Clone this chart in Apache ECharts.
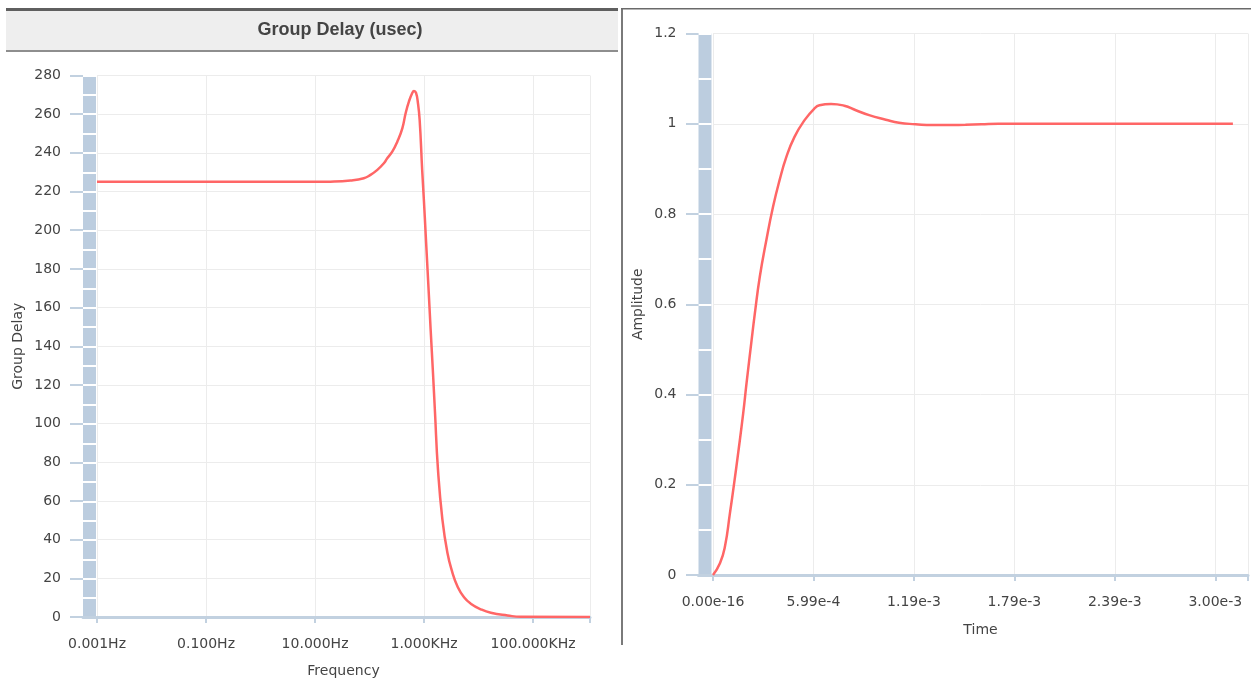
<!DOCTYPE html>
<html>
<head>
<meta charset="utf-8">
<script src="https://cdn.jsdelivr.net/npm/echarts@6/dist/echarts.min.js"></script>
<style>
html,body{margin:0;padding:0;background:#ffffff;}
#c{width:1251px;height:683px;}
</style>
</head>
<body>
<div id="c"></div>
<script>
// ---------- Data ----------
// Left chart: group delay vs frequency
const freqHz = [0.001, 0.01, 0.1, 1, 10, 19.2, 44.8, 78.5, 104, 139, 183, 211, 261, 323, 399, 459, 527, 610, 652, 710, 773, 830, 923, 995, 1070, 1230, 1320, 1460, 1585, 1800, 2170, 2680, 3310, 4090, 5410, 7190, 11000, 16800, 34000, 59700, 1107000];
const groupDelayUsec = [225, 225, 225, 225, 225, 225.1, 225.7, 226.9, 228.6, 231.2, 234.6, 237.2, 240.6, 245.8, 252.7, 260.5, 266.5, 271.1, 272.0, 271.1, 265.6, 257.0, 231.2, 215, 198, 165.5, 148.6, 125.8, 106, 76.2, 50.4, 33.2, 23.0, 15.9, 10.2, 6.9, 4.0, 2.2, 0.8, 0.1, 0];
const freqTickLabels = ['0.001Hz', '0.100Hz', '10.000Hz', '1.000KHz', '100.000KHz'];

// Right chart: step response amplitude vs time
const timeSec = [0, 4.15e-5, 7.12e-5, 1.01e-4, 1.26e-4, 1.50e-4, 1.80e-4, 2.00e-4, 2.30e-4, 2.49e-4, 2.79e-4, 3.18e-4, 3.58e-4, 3.97e-4, 4.37e-4, 4.86e-4, 5.46e-4, 6.05e-4, 6.35e-4, 7.04e-4, 7.83e-4, 8.52e-4, 9.31e-4, 1.030e-3, 1.109e-3, 1.208e-3, 1.307e-3, 1.406e-3, 1.505e-3, 1.601e-3, 1.702e-3, 2.0e-3, 2.5e-3, 3.10e-3];
const amplitude = [0, 0.026, 0.063, 0.137, 0.203, 0.270, 0.358, 0.425, 0.520, 0.578, 0.661, 0.742, 0.816, 0.875, 0.926, 0.971, 1.008, 1.034, 1.041, 1.044, 1.040, 1.030, 1.019, 1.009, 1.002, 0.999, 0.997, 0.997, 0.998, 0.999, 1.0, 1.0, 1.0, 1.0];
const timeTickLabels = ['0.00e-16', '5.99e-4', '1.19e-3', '1.79e-3', '2.39e-3', '3.00e-3'];

// ---------- Styling ----------
const FONT = 'DejaVu Sans';
const TXT = '#444444';
const BAR = '#bccddf';
const AXIS = '#c2d1e0';
const GRIDLINE = '#ececec';
const CURVE = '#ff6666';

const logStep = 2;      // decades between labelled frequency ticks
const logMin = -3;
const logMax = 6.044;
const timeStep = 5.99e-4;
const timeMax = 3.19e-3;

const labelStyle = {color: TXT, fontSize: 14, fontFamily: FONT};
const nameStyle = {color: TXT, fontSize: 14, fontFamily: FONT};

const chart = echarts.init(document.getElementById('c'), null, {renderer: 'canvas'});

const leftData = freqHz.map((f, i) => [Math.log10(f), groupDelayUsec[i]]);
const rightData = timeSec.map((t, i) => [t, amplitude[i]]);

const option = {
  backgroundColor: '#ffffff',
  animation: false,
  graphic: [
    {type: 'rect', shape: {x: 6, y: 8, width: 612, height: 44}, style: {fill: '#eeeeee'}, z: 10},
    {type: 'rect', shape: {x: 6, y: 8, width: 612, height: 3}, style: {fill: '#5f5f5f'}, z: 11},
    {type: 'rect', shape: {x: 6, y: 50, width: 612, height: 2}, style: {fill: '#8e8e8e'}, z: 11},
    {type: 'text', x: 340, y: 30, z: 12, style: {text: 'Group Delay (usec)', fill: TXT, font: 'bold 18px "Liberation Sans", Arial, sans-serif', textAlign: 'center', textVerticalAlign: 'middle'}},
    {type: 'rect', shape: {x: 621, y: 8, width: 2, height: 637}, style: {fill: '#7a7a7a'}, z: 11},
    {type: 'rect', shape: {x: 621, y: 8, width: 630, height: 1.5}, style: {fill: '#6a6a6a'}, z: 11}
  ],
  grid: [
    {left: 97, top: 75.5, width: 493, height: 542},
    {left: 83, top: 75.5, width: 13, height: 542, show: true, backgroundColor: BAR, borderWidth: 0},
    {left: 713, top: 33.5, width: 538, height: 541.5},
    {left: 698.5, top: 33.5, width: 13, height: 541.5, show: true, backgroundColor: BAR, borderWidth: 0}
  ],
  xAxis: [
    {
      gridIndex: 0, type: 'value', min: logMin, max: logMax, interval: logStep,
      axisLine: {show: true, onZero: false, lineStyle: {color: AXIS, width: 3}},
      axisTick: {show: true, length: 6, lineStyle: {color: AXIS, width: 2}},
      axisLabel: {
        margin: 20, ...labelStyle,
        formatter: function (v) {
          const k = (v - logMin) / logStep;
          const i = Math.round(k);
          return (Math.abs(k - i) < 1e-3 && freqTickLabels[i] !== undefined) ? freqTickLabels[i] : '';
        }
      },
      splitLine: {show: true, lineStyle: {color: GRIDLINE, width: 1}},
      name: 'Frequency', nameLocation: 'middle', nameGap: 47, nameTextStyle: nameStyle
    },
    {
      gridIndex: 1, type: 'value', min: 0, max: 1, z: 1,
      axisLine: {show: true, onZero: false, lineStyle: {color: AXIS, width: 3}},
      axisTick: {show: false}, axisLabel: {show: false}, splitLine: {show: false}
    },
    {
      gridIndex: 2, type: 'value', min: 0, max: timeMax, interval: timeStep,
      axisLine: {show: true, onZero: false, lineStyle: {color: AXIS, width: 3}},
      axisTick: {show: true, length: 6, lineStyle: {color: AXIS, width: 2}},
      axisLabel: {
        margin: 20, ...labelStyle,
        formatter: function (v) {
          const k = v / timeStep;
          const i = Math.round(k);
          return (Math.abs(k - i) < 1e-3 && timeTickLabels[i] !== undefined) ? timeTickLabels[i] : '';
        }
      },
      splitLine: {show: true, lineStyle: {color: GRIDLINE, width: 1}},
      name: 'Time', nameLocation: 'middle', nameGap: 48, nameTextStyle: nameStyle
    },
    {
      gridIndex: 3, type: 'value', min: 0, max: 1, z: 1,
      axisLine: {show: true, onZero: false, lineStyle: {color: AXIS, width: 3}},
      axisTick: {show: false}, axisLabel: {show: false}, splitLine: {show: false}
    }
  ],
  yAxis: [
    {
      gridIndex: 0, type: 'value', min: 0, max: 280, interval: 20, offset: 14,
      axisLine: {show: false, onZero: false},
      axisTick: {show: true, length: 13, lineStyle: {color: AXIS, width: 2}},
      axisLabel: {margin: 22, ...labelStyle},
      splitLine: {show: true, lineStyle: {color: GRIDLINE, width: 1}},
      name: 'Group Delay', nameLocation: 'middle', nameGap: 58, nameTextStyle: nameStyle
    },
    {
      gridIndex: 1, type: 'value', min: 0, max: 280, interval: 10,
      axisLine: {show: false, onZero: false}, axisTick: {show: false}, axisLabel: {show: false},
      splitLine: {show: true, lineStyle: {color: '#ffffff', width: 2}}
    },
    {
      gridIndex: 2, type: 'value', min: 0, max: 1.2, interval: 0.2, offset: 14.5,
      axisLine: {show: false, onZero: false},
      axisTick: {show: true, length: 12.5, lineStyle: {color: AXIS, width: 2}},
      axisLabel: {margin: 22, ...labelStyle},
      splitLine: {show: true, lineStyle: {color: GRIDLINE, width: 1}},
      name: 'Amplitude', nameLocation: 'middle', nameGap: 53.5, nameTextStyle: nameStyle
    },
    {
      gridIndex: 3, type: 'value', min: 0, max: 1.2, interval: 0.1,
      axisLine: {show: false, onZero: false}, axisTick: {show: false}, axisLabel: {show: false},
      splitLine: {show: true, lineStyle: {color: '#ffffff', width: 2}}
    }
  ],
  series: [
    {
      type: 'line', xAxisIndex: 0, yAxisIndex: 0, data: leftData,
      showSymbol: false, smooth: 0.5, clip: true,
      lineStyle: {color: CURVE, width: 2.5}, z: 5
    },
    {
      type: 'line', xAxisIndex: 2, yAxisIndex: 2, data: rightData,
      showSymbol: false, smooth: 0.5, clip: true,
      lineStyle: {color: CURVE, width: 2.5}, z: 5
    }
  ]
};
chart.setOption(option);
</script>
</body>
</html>
